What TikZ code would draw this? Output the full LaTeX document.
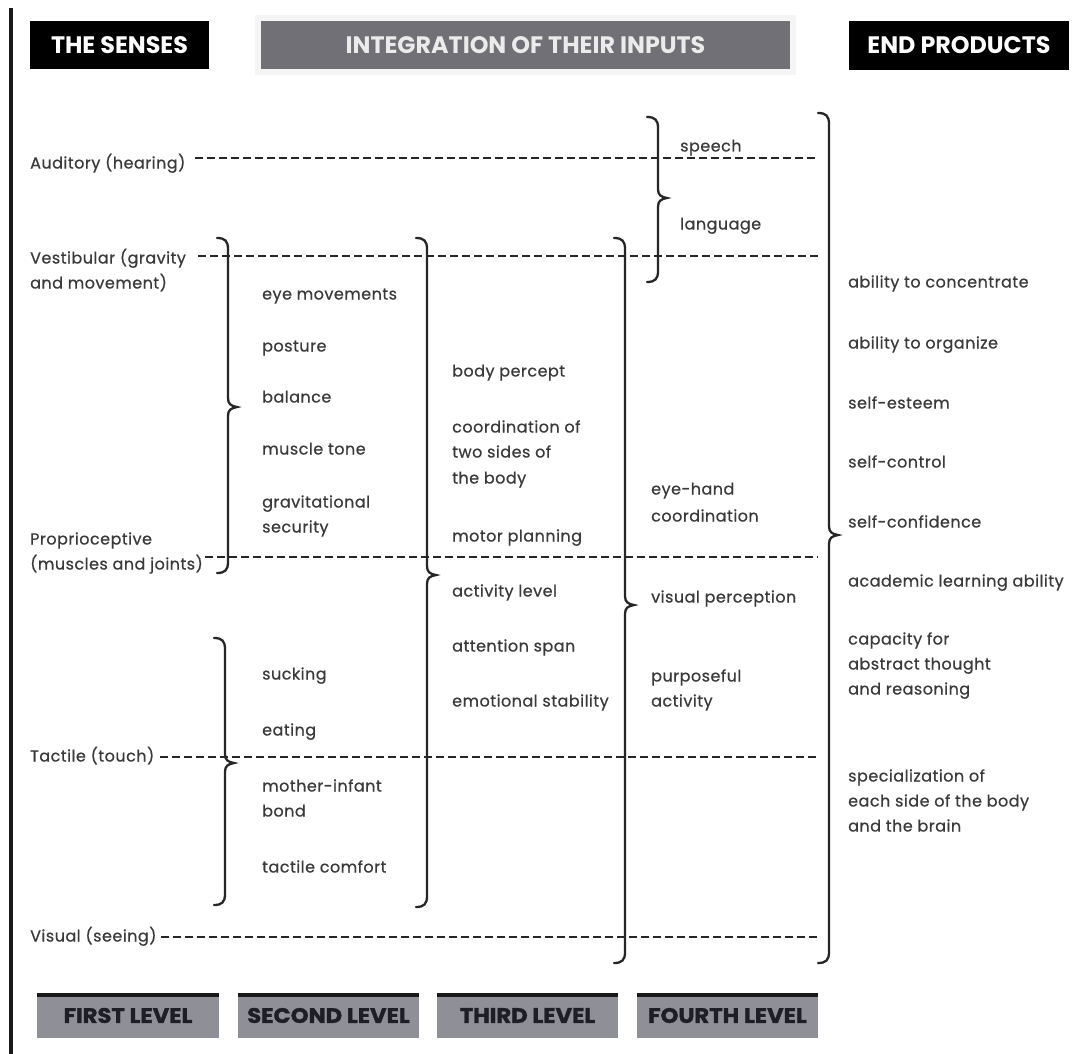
\documentclass[tikz,border=0pt]{standalone}
\usepackage{fontspec}
\setmainfont{Poppins}[LetterSpace=3, FakeBold=0.6]
\newfontfamily\hdrfont{Poppins}
\newfontfamily\lvlfont{Poppins}[BoldFeatures={FakeStretch=1.08, FakeBold=1.5}]
\definecolor{txt}{HTML}{3A3A3A}
\definecolor{hdrgray}{HTML}{707076}
\definecolor{lvlgray}{HTML}{8F8F97}
\definecolor{lvltxt}{HTML}{1E1E28}
\newcommand{\tx}[4]{\node[lbl] (#1) at (#2,{#3+4.5}) {#4};}
\newcommand{\rbr}[4]{\draw[bracestyle] ({#1-11},#2) .. controls ({#1-3},#2) and (#1,{#2+3}) .. (#1,{#2+11}) -- (#1,{#3-9}) .. controls (#1,{#3-3}) and ({#1+3},{#3-1}) .. ({#1+9},#3) .. controls ({#1+3},{#3+1}) and (#1,{#3+3}) .. (#1,{#3+9}) -- (#1,{#4-11}) .. controls (#1,{#4-3}) and ({#1-3},#4) .. ({#1-11},#4);}
\begin{document}
\begin{tikzpicture}[x=1pt,y=-1pt,
  lbl/.style={anchor=base west, inner sep=0pt, text=txt, font=\fontsize{16}{19}\selectfont},
  hdrbox/.style={inner sep=0pt, text=white, font=\hdrfont\fontsize{23.8}{26}\selectfont\bfseries},
  lvlbox/.style={inner sep=0pt, fill=lvlgray, text=lvltxt, minimum height=45pt, font=\lvlfont\fontsize{21}{24}\selectfont\bfseries},
  dashline/.style={draw=black!85, line width=1.8pt, dash pattern=on 7.5pt off 4.5pt},
  bracestyle/.style={draw=black!85, line width=2.3pt, line cap=round}]
\useasboundingbox (0,0) rectangle (1082,1054);
\fill[white] (0,0) rectangle (1082,1054);
% left rule
\draw[line width=3.5pt, black!90] (11,8) -- (11,1054);
% headers
\fill[black!4] (255,15) rectangle (796,75);
\node[hdrbox, fill=black, minimum width=179pt, minimum height=48pt] (senses) at (119.5,45) {THE SENSES};
\node[hdrbox, fill=hdrgray, text=white!92!black, minimum width=529pt, minimum height=48pt] (integ) at (525.5,45) {INTEGRATION OF THEIR INPUTS};
\node[hdrbox, fill=black, minimum width=220pt, minimum height=49pt] (endp) at (959,45.5) {END PRODUCTS};
% dashed lines
\coordinate (d1a) at (195,158); \coordinate (d1b) at (818,158);
\coordinate (d2a) at (198,256); \coordinate (d2b) at (818,256);
\coordinate (d3a) at (205,557); \coordinate (d3b) at (818,557);
\coordinate (d4a) at (160,757); \coordinate (d4b) at (818,757);
\coordinate (d5a) at (161,937); \coordinate (d5b) at (818,937);
\draw[dashline] (d1a) -- (d1b);
\draw[dashline] (d2a) -- (d2b);
\draw[dashline] (d3a) -- (d3b);
\draw[dashline] (d4a) -- (d4b);
\draw[dashline] (d5a) -- (d5b);
% braces
\rbr{228}{238}{407}{573}
\rbr{225}{638}{763}{905}
\rbr{427}{238}{575}{907}
\rbr{625}{238}{605}{963}
\rbr{658}{117}{198}{282}
\rbr{829}{113}{535}{963}
% senses
\tx{aud}{30}{164}{Auditory (hearing)}
\tx{vesA}{30}{259}{Vestibular (gravity}
\tx{vesB}{30}{284}{and movement)}
\tx{proA}{30}{540}{Proprioceptive}
\tx{proB}{30}{565}{(muscles and joints)}
\tx{tac}{30}{757}{Tactile (touch)}
\tx{vis}{30}{937}{Visual (seeing)}
% first level
\tx{f1}{262}{295}{eye movements}
\tx{f2}{262}{347}{posture}
\tx{f3}{262}{398}{balance}
\tx{f4}{262}{450}{muscle tone}
\tx{f5a}{262}{503}{gravitational}
\tx{f5b}{262}{528}{security}
\tx{f6}{262}{675}{sucking}
\tx{f7}{262}{731}{eating}
\tx{f8a}{262}{787}{mother-infant}
\tx{f8b}{262}{812}{bond}
\tx{f9}{262}{868}{tactile comfort}
% second level
\tx{s1}{452}{372}{body percept}
\tx{s2a}{452}{428}{coordination of}
\tx{s2b}{452}{453}{two sides of}
\tx{s2c}{452}{479}{the body}
\tx{s3}{452}{537}{motor planning}
\tx{s4}{452}{592}{activity level}
\tx{s5}{452}{647}{attention span}
\tx{s6}{452}{702}{emotional stability}
% third level
\tx{t1a}{651}{490}{eye-hand}
\tx{t1b}{651}{517}{coordination}
\tx{t2}{651}{598}{visual perception}
\tx{t3a}{651}{677}{purposeful}
\tx{t3b}{651}{702}{activity}
% fourth level
\tx{q1}{680}{147}{speech}
\tx{q2}{680}{225}{language}
% end products
\tx{e1}{848}{283}{ability to concentrate}
\tx{e2}{848}{344}{ability to organize}
\tx{e3}{848}{404}{self-esteem}
\tx{e4}{848}{463}{self-control}
\tx{e5}{848}{523}{self-confidence}
\tx{e6}{848}{582}{academic learning ability}
\tx{e7a}{848}{640}{capacity for}
\tx{e7b}{848}{665}{abstract thought}
\tx{e7c}{848}{690}{and reasoning}
\tx{e8a}{848}{777}{specialization of}
\tx{e8b}{848}{802}{each side of the body}
\tx{e8c}{848}{827}{and the brain}
% level boxes
\node[lvlbox, minimum width=182pt] (L1) at (128,1015.5) {FIRST LEVEL};
\node[lvlbox, minimum width=181pt] (L2) at (328.5,1015.5) {SECOND LEVEL};
\node[lvlbox, minimum width=181pt] (L3) at (527.5,1015.5) {THIRD LEVEL};
\node[lvlbox, minimum width=181pt] (L4) at (727.5,1015.5) {FOURTH LEVEL};
\foreach \n in {L1,L2,L3,L4}{\fill[black!90] (\n.north west) rectangle ([yshift=-4pt]\n.north east);}
\end{tikzpicture}
\end{document}
